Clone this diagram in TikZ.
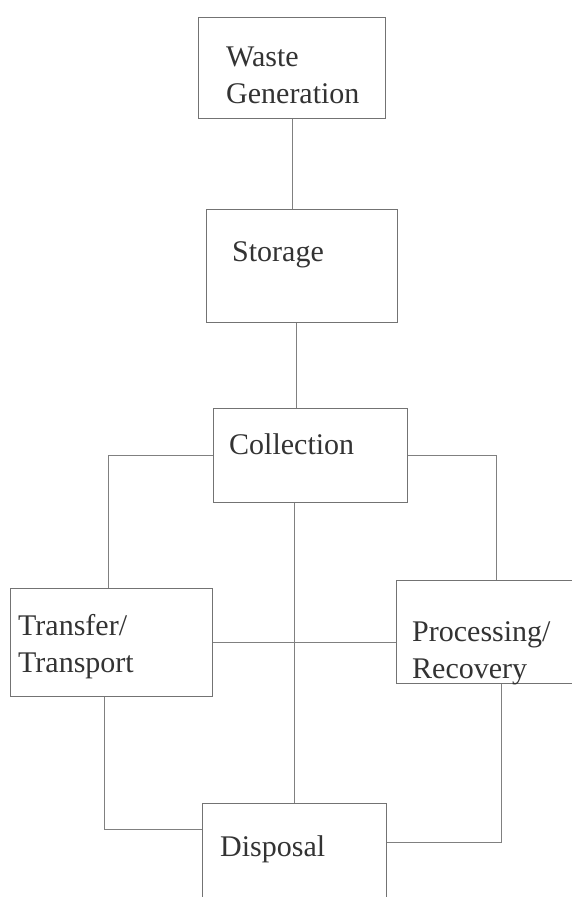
\documentclass[tikz,border=0pt]{standalone}
\usepackage{fontspec}
\setmainfont{Liberation Serif}
\usetikzlibrary{positioning}
\tikzset{
  stage/.style={
    rectangle,
    anchor=north west,
    inner sep=0pt,
    draw=black!55,
    line width=0.8pt
  },
  stagetext/.style={
    anchor=base west,
    inner sep=0pt,
    align=left,
    text=black!80,
    font=\fontsize{30}{37}\selectfont
  },
  link/.style={draw=black!50, line width=0.7pt}
}

\begin{document}
\begin{tikzpicture}[x=1pt,y=-1pt]
  \useasboundingbox (0,0) rectangle (572,897);
  % boxes
  \node (gen) [stage, minimum width=187pt, minimum height=101pt] at (198,17) {};
  \node (stor) [stage, minimum width=191pt, minimum height=113pt] at (206,209) {};
  \node (coll) [stage, minimum width=194pt, minimum height=94pt] at (213,408) {};
  \node (trans) [stage, minimum width=202pt, minimum height=108pt] at (10,588) {};
  \node (proc) [stage, minimum width=184pt, minimum height=103pt] at (396,580) {};
  \node (disp) [stage, minimum width=184pt, minimum height=120pt] at (202,803) {};
  % texts (base of multi-line text = last line)
  \node (gentext) [stagetext] at ([shift={(28,86)}]gen.north west) {Waste\\Generation};
  \node (stortext) [stagetext] at ([shift={(26,52)}]stor.north west) {Storage};
  \node (colltext) [stagetext] at ([shift={(16,46)}]coll.north west) {Collection};
  \node (transtext) [stagetext] at ([shift={(8,84)}]trans.north west) {Transfer/\\Transport};
  \node (proctext) [stagetext] at ([shift={(16,98)}]proc.north west) {Processing/\\Recovery};
  \node (disptext) [stagetext] at ([shift={(18,53)}]disp.north west) {Disposal};
  % links
  \draw [link] (gen.south) -- (gen.south |- stor.north);
  \draw [link] ([shift={(-6,0)}]stor.south) -- ([shift={(-6,0)}]stor.south |- coll.north);
  \draw [link] (coll.west) -| ([shift={(98,0)}]trans.north west);
  \draw [link] (coll.east) -| ([shift={(100,0)}]proc.north west);
  \draw [link] (disp.north |- coll.south) -- (disp.north);
  \draw [link] (trans.east) -- (trans.east -| proc.west);
  \draw [link] ([shift={(-7,0)}]trans.south) |- ([shift={(0,26)}]disp.north west);
  \draw [link] ([shift={(105,0)}]proc.south west) |- ([shift={(0,39)}]disp.north east);
\end{tikzpicture}
\end{document}
